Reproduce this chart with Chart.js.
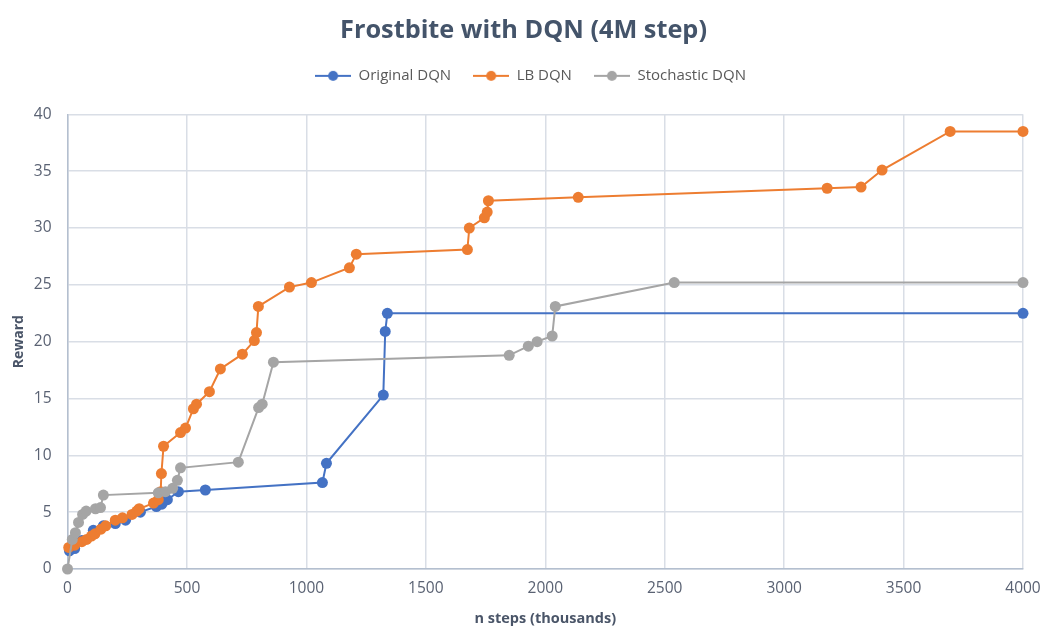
<!DOCTYPE html>
<html>
<head>
<meta charset="utf-8">
<script src="https://cdn.jsdelivr.net/npm/chart.js@4"></script>
<style>
  html, body { margin: 0; padding: 0; background: #ffffff; }
  #wrap { width: 1043px; height: 628px; position: relative; }
</style>
</head>
<body>
<div id="wrap"><canvas id="c" width="1043" height="628"></canvas></div>
<script>
// Steps (thousands) and reward for each agent
const originalSteps = [8, 30, 60, 108, 150, 200, 243, 305, 372, 395, 418, 464, 577, 1067, 1084, 1322, 1330, 1339, 4000];
const originalReward = [1.6, 1.8, 2.5, 3.4, 3.8, 4.0, 4.3, 5.0, 5.5, 5.7, 6.1, 6.8, 6.95, 7.6, 9.3, 15.3, 20.9, 22.5, 22.5];

const lbSteps = [5, 30, 60, 80, 100, 115, 140, 160, 200, 230, 270, 290, 300, 360, 380, 390, 393, 402, 473, 494, 527, 540, 594, 640, 732, 782, 791, 799, 929, 1021, 1180, 1209, 1674, 1682, 1745, 1757, 1762, 2138, 3180, 3322, 3410, 3695, 4000];
const lbReward = [1.9, 2.1, 2.4, 2.6, 2.9, 3.1, 3.5, 3.8, 4.3, 4.5, 4.8, 5.1, 5.3, 5.8, 6.1, 6.8, 8.4, 10.8, 12.0, 12.4, 14.1, 14.5, 15.6, 17.6, 18.9, 20.1, 20.8, 23.1, 24.8, 25.2, 26.5, 27.7, 28.1, 30.0, 30.9, 31.4, 32.4, 32.7, 33.5, 33.6, 35.1, 38.5, 38.5];

const stochSteps = [0, 20, 33, 46, 63, 78, 117, 138, 150, 380, 410, 440, 460, 473, 715, 800, 815, 862, 1849, 1929, 1966, 2029, 2042, 2540, 4000];
const stochReward = [0, 2.6, 3.2, 4.1, 4.8, 5.1, 5.3, 5.4, 6.5, 6.7, 6.8, 7.1, 7.8, 8.9, 9.4, 14.2, 14.5, 18.2, 18.8, 19.6, 20.0, 20.5, 23.1, 25.2, 25.2];

const seriesNames = ['Original DQN', 'LB DQN', 'Stochastic DQN'];
const seriesColors = ['#4472C4', '#ED7D31', '#A5A5A5'];

const xTickValues = [0, 500, 1000, 1500, 2000, 2500, 3000, 3500, 4000];
const yTickValues = [0, 5, 10, 15, 20, 25, 30, 35, 40];

function toPoints(xs, ys) {
  return xs.map((x, i) => ({ x: x, y: ys[i] }));
}

// Legend marker: short line with a dot in the middle
function legendMarker(color) {
  const cv = document.createElement('canvas');
  cv.width = 36; cv.height = 12;
  const g = cv.getContext('2d');
  g.strokeStyle = color; g.lineWidth = 2;
  g.beginPath(); g.moveTo(0, 6); g.lineTo(36, 6); g.stroke();
  g.fillStyle = color;
  g.beginPath(); g.arc(18, 6, 5, 0, Math.PI * 2); g.fill();
  return cv;
}

// Nudge a layout box horizontally when it is drawn
function shiftBox(box, dx, ctx) {
  const draw = box.draw;
  box.draw = function (area) {
    ctx.save();
    ctx.translate(dx, 0);
    draw.call(this, area);
    ctx.restore();
  };
}

// Extra space under the legend row, and header boxes centred over the plot
const headerLayout = {
  id: 'headerLayout',
  beforeInit(chart) {
    const legend = chart.legend;
    const fit = legend.fit;
    legend.fit = function () {
      fit.call(this);
      this.height += 21;
    };
    shiftBox(legend, 10, chart.ctx);
    shiftBox(chart.titleBlock, 3, chart.ctx);
  }
};

const allSeries = [
  toPoints(originalSteps, originalReward),
  toPoints(lbSteps, lbReward),
  toPoints(stochSteps, stochReward)
];

const datasets = allSeries.map((pts, i) => ({
  label: seriesNames[i],
  data: pts,
  showLine: true,
  borderColor: seriesColors[i],
  backgroundColor: seriesColors[i],
  borderWidth: 2,
  pointRadius: 5.5,
  pointHoverRadius: 5.5,
  pointBorderWidth: 0,
  tension: 0,
  clip: false,
  order: 3 - i
}));

const fontFamily = "'Open Sans', 'Noto Sans', sans-serif";
const tickColor = '#5A6273';
const axisTitleColor = '#4A5568';

new Chart(document.getElementById('c'), {
  type: 'scatter',
  data: { datasets: datasets },
  plugins: [headerLayout],
  options: {
    responsive: false,
    animation: false,
    devicePixelRatio: 1,
    layout: { padding: { left: 2, right: 4, top: 0, bottom: 0 } },
    plugins: {
      title: {
        display: true,
        text: 'Frostbite with DQN (4M step)',
        color: '#44546A',
        font: { family: fontFamily, size: 25.3, weight: 'bold' },
        padding: { top: 16, bottom: 0 }
      },
      legend: {
        display: true,
        position: 'top',
        labels: {
          color: '#595959',
          font: { family: fontFamily, size: 15 },
          usePointStyle: true,
          pointStyleWidth: 36,
          boxHeight: 12,
          padding: 22,
          generateLabels: (chart) => chart.data.datasets.map((ds, i) => ({
            text: ds.label,
            fillStyle: ds.borderColor,
            strokeStyle: ds.borderColor,
            fontColor: '#595959',
            pointStyle: legendMarker(ds.borderColor),
            datasetIndex: i,
            hidden: false,
            lineWidth: 0
          }))
        }
      },
      tooltip: { enabled: false }
    },
    scales: {
      x: {
        type: 'linear',
        min: 0,
        max: 4000,
        afterBuildTicks: (axis) => { axis.ticks = xTickValues.map(v => ({ value: v })); },
        // room for the last tick label past the right end of the axis
        afterFit: (axis) => { axis.paddingRight = 20; },
        grid: { color: '#D9DEE6', lineWidth: 1.5, drawTicks: false },
        border: { color: '#B4BFCF', width: 1.5 },
        ticks: {
          color: tickColor,
          font: { family: fontFamily, size: 15.5 },
          padding: 10,
          callback: (v) => String(v)
        },
        title: {
          display: true,
          text: 'n steps (thousands)',
          color: axisTitleColor,
          font: { family: fontFamily, size: 14.5, weight: 'bold' },
          padding: { top: 3, bottom: 0 }
        }
      },
      y: {
        type: 'linear',
        min: 0,
        max: 40,
        afterBuildTicks: (axis) => { axis.ticks = yTickValues.map(v => ({ value: v })); },
        grid: { color: '#D9DEE6', lineWidth: 1.5, drawTicks: false },
        border: { color: '#B4BFCF', width: 1.5 },
        ticks: {
          color: tickColor,
          font: { family: fontFamily, size: 15.5 },
          padding: 16,
          callback: (v) => String(v)
        },
        title: {
          display: true,
          text: 'Reward',
          color: axisTitleColor,
          font: { family: fontFamily, size: 14, weight: 'bold' },
          padding: { top: 9, bottom: -10 }
        }
      }
    }
  }
});
</script>
</body>
</html>
